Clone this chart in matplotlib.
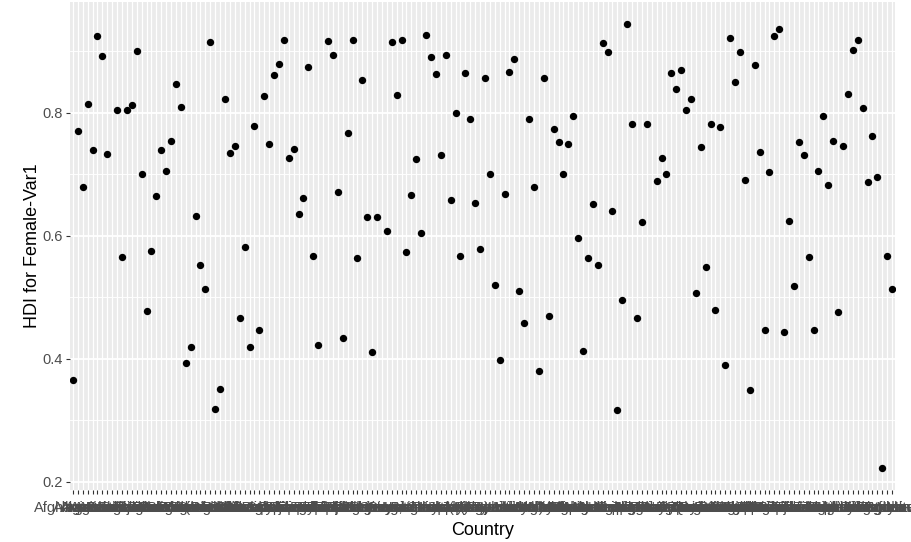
import numpy as np
import matplotlib
matplotlib.use("Agg")
import matplotlib.pyplot as plt
from matplotlib.ticker import MultipleLocator

plt.rcParams['font.family'] = ['Liberation Sans', 'DejaVu Sans']

countries = [
    "Afghanistan", "Albania", "Algeria", "Angola", "Argentina", "Armenia",
    "Australia", "Austria", "Azerbaijan", "Bahamas", "Bahrain", "Bangladesh",
    "Barbados", "Belarus", "Belgium", "Belize", "Benin", "Bhutan", "Bolivia",
    "Bosnia and Herzegovina", "Botswana", "Brazil", "Brunei Darussalam",
    "Bulgaria", "Burkina Faso", "Burundi", "Cabo Verde", "Cambodia",
    "Cameroon", "Canada", "Central African Republic", "Chad", "Chile", "China",
    "Colombia", "Comoros", "Congo", "Congo (Democratic Republic of the)",
    "Costa Rica", "Côte d'Ivoire", "Croatia", "Cuba", "Cyprus",
    "Czech Republic", "Denmark", "Djibouti", "Dominican Republic", "Ecuador",
    "Egypt", "El Salvador", "Eritrea", "Estonia", "Ethiopia", "Fiji",
    "Finland", "France", "Gabon", "Gambia", "Georgia", "Germany", "Ghana",
    "Greece", "Guatemala", "Guinea", "Guinea-Bissau", "Guyana", "Haiti",
    "Honduras", "Hong Kong, China (SAR)", "Hungary", "Iceland", "India",
    "Indonesia", "Iran", "Iraq", "Ireland", "Israel", "Italy", "Jamaica",
    "Japan", "Jordan", "Kazakhstan", "Kenya", "Korea (Republic of)", "Kuwait",
    "Kyrgyzstan", "Lao People's Democratic Republic", "Latvia", "Lebanon",
    "Lesotho", "Liberia", "Libya", "Lithuania", "Luxembourg", "Madagascar",
    "Malawi", "Malaysia", "Maldives", "Mali", "Malta", "Mauritania",
    "Mauritius", "Mexico", "Moldova", "Mongolia", "Montenegro", "Morocco",
    "Mozambique", "Myanmar", "Namibia", "Nepal", "Netherlands", "New Zealand",
    "Nicaragua", "Niger", "Nigeria", "Norway", "Oman", "Pakistan", "Panama",
    "Papua New Guinea", "Paraguay", "Peru", "Philippines", "Poland",
    "Portugal", "Qatar", "Romania", "Russian Federation", "Rwanda",
    "Saint Lucia", "Sao Tome and Principe", "Saudi Arabia", "Senegal",
    "Serbia", "Sierra Leone", "Singapore", "Slovakia", "Slovenia",
    "South Africa", "Spain", "Sri Lanka", "Sudan", "Suriname", "Swaziland",
    "Sweden", "Switzerland", "Syrian Arab Republic", "Tajikistan", "Tanzania",
    "Thailand", "The former Yugoslav Republic of Macedonia", "Togo",
    "Trinidad and Tobago", "Tunisia", "Turkey", "Turkmenistan", "Uganda",
    "Ukraine", "United Arab Emirates", "United Kingdom", "United States",
    "Uruguay", "Venezuela", "Viet Nam", "Yemen", "Zambia", "Zimbabwe",
]

hdi_female = [
    0.365, 0.771, 0.679, 0.815, 0.739, 0.925, 0.892, 0.733, None, 0.804,
    0.566, 0.804, 0.812, 0.900, 0.700, 0.478, 0.576, 0.664, 0.739, 0.706,
    0.754, 0.846, 0.809, 0.393, 0.420, 0.633, 0.553, 0.513, 0.915, 0.319,
    0.351, 0.823, 0.735, 0.746, 0.466, 0.582, 0.420, 0.779, 0.447, 0.827,
    0.750, 0.861, 0.880, 0.919, 0.727, 0.741, 0.635, 0.662, 0.875, 0.567,
    0.423, None, 0.917, 0.894, 0.671, 0.434, 0.767, 0.919, 0.564, 0.853,
    0.630, 0.411, 0.630, None, 0.608, 0.915, 0.829, 0.919, 0.574, 0.667,
    0.725, 0.604, 0.926, 0.890, 0.863, 0.731, 0.894, 0.658, 0.800, 0.568,
    0.865, 0.790, 0.654, 0.579, 0.856, 0.700, 0.520, 0.398, 0.668, 0.867,
    0.888, 0.511, 0.459, 0.790, 0.679, 0.380, 0.856, 0.470, 0.773, 0.752,
    0.700, 0.750, 0.794, 0.597, 0.413, 0.564, 0.652, 0.553, 0.913, 0.898,
    0.641, 0.317, 0.495, 0.944, 0.781, 0.466, 0.622, 0.781, None, 0.689,
    0.727, 0.700, 0.865, 0.838, 0.869, 0.804, 0.823, 0.507, 0.744, 0.550,
    0.781, 0.480, 0.777, 0.390, 0.922, 0.850, 0.898, 0.691, 0.349, 0.878,
    0.737, 0.447, 0.704, 0.925, 0.936, 0.443, 0.624, 0.518, 0.752, 0.731,
    0.566, 0.447, 0.706, 0.794, 0.683, 0.754, 0.476, 0.746, 0.831, 0.902,
    0.919, 0.807, 0.687, 0.763, 0.695, 0.223, 0.567, 0.513,
]

y = np.array([np.nan if v is None else v for v in hdi_female])
x = np.arange(len(countries))

fig = plt.figure(figsize=(9.12, 5.42), dpi=100)
ax = fig.add_axes([70 / 912, 52 / 542, 825 / 912, 488 / 542])
ax.set_facecolor("#EBEBEB")
for s in ax.spines.values():
    s.set_visible(False)

# ggplot-like limits: discrete expand 0.6, continuous 5%
lo, hi = np.nanmin(y), np.nanmax(y)
pad = (hi - lo) * 0.05
ax.set_xlim(-0.6, len(countries) - 1 + 0.6)
ax.set_ylim(lo - pad, hi + pad)

ax.yaxis.set_minor_locator(MultipleLocator(0.1))
ax.set_yticks([0.2, 0.4, 0.6, 0.8])
ax.set_yticklabels(["0.2", "0.4", "0.6", "0.8"])
ax.grid(which="major", axis="y", color="white", linewidth=1.3)
ax.grid(which="minor", axis="y", color="white", linewidth=0.65)
ax.grid(which="major", axis="x", color="white", linewidth=0.9)
ax.set_axisbelow(True)

ax.set_xticks(x)
ax.set_xticklabels(countries)
ax.tick_params(axis="both", which="major", length=3, width=0.8, color="#333333",
               labelcolor="#4D4D4D", labelsize=10.5, pad=2)
ax.tick_params(axis="x", which="major", pad=5)
ax.tick_params(axis="y", which="minor", length=0)

ax.scatter(x, y, s=28, color="black", zorder=3, linewidths=0)

ax.set_xlabel("Country", fontsize=13, color="black", labelpad=5)
ax.set_ylabel("HDI for Female-Var1", fontsize=13, color="black", labelpad=1.5)

fig.savefig("out.png", dpi=100, facecolor="white")
